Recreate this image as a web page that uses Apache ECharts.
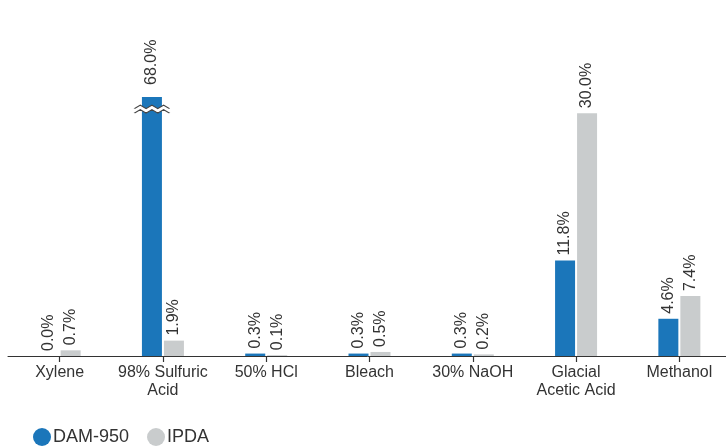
<!DOCTYPE html>
<html>
<head>
<meta charset="utf-8">
<script src="https://cdn.jsdelivr.net/npm/echarts@6/dist/echarts.min.js"></script>
<style>html,body{margin:0;padding:0;background:#fff}#c{width:726px;height:448px}</style>
</head>
<body>
<div id="c"></div>
<script>
var categories = ['Xylene', '98% Sulfuric\nAcid', '50% HCl', 'Bleach', '30% NaOH', 'Glacial\nAcetic Acid', 'Methanol'];
var dam950 = [0.0, 68.0, 0.3, 0.3, 0.3, 11.8, 4.6];
var ipda = [0.7, 1.9, 0.1, 0.5, 0.2, 30.0, 7.4];
var seriesNames = ['DAM-950', 'IPDA'];
var axisMax = 32;      // visible top of the (broken) value axis
var breakMark = 30.5;  // where the break symbol is drawn

var FONT = '"Liberation Sans", Arial, Helvetica, sans-serif';
var labelCfg = {
  show: true, position: 'top', rotate: 90, align: 'left', verticalAlign: 'middle',
  distance: 5, fontSize: 16, color: '#333', fontFamily: FONT,
  formatter: function (p) { return p.value.toFixed(1) + '%'; }
};

var damData = dam950.map(function (v) {
  if (v > axisMax) return { value: v, label: { distance: 12 } };
  return v;
});

var GL = 8, GW = 723, band = GW / categories.length;

var chart = echarts.init(document.getElementById('c'), null, { renderer: 'canvas' });
chart.setOption({
  animation: false,
  textStyle: { fontFamily: FONT },
  grid: [
    { left: GL, width: GW, top: 97, bottom: 92, containLabel: false, outerBoundsMode: 'none' },
    { left: GL + band / 2, width: GW - band, top: 97, bottom: 92, containLabel: false, outerBoundsMode: 'none' }
  ],
  legend: {
    left: 28, top: 423, icon: 'circle', itemWidth: 18, itemHeight: 18, itemGap: 18,
    textStyle: { fontSize: 18, color: '#333', fontFamily: FONT, padding: [0, 0, 0, -3] },
    data: seriesNames
  },
  xAxis: [
    {
      type: 'category', data: categories, gridIndex: 0,
      axisLine: { show: true, lineStyle: { color: '#333', width: 1 } },
      axisTick: { show: false },
      axisLabel: { fontSize: 16, color: '#333', lineHeight: 18, margin: 8, interval: 0, fontFamily: FONT }
    },
    {
      type: 'value', gridIndex: 1, position: 'bottom',
      min: 0, max: categories.length - 1, interval: 1,
      axisLine: { show: false, onZero: false },
      axisTick: { show: true, length: 6, lineStyle: { color: '#333', width: 1.2 } },
      axisLabel: { show: false },
      splitLine: { show: false }
    }
  ],
  yAxis: [
    { type: 'value', min: 0, max: axisMax, show: false, gridIndex: 0 },
    { type: 'value', min: 0, max: axisMax, show: false, gridIndex: 1 }
  ],
  series: [
    {
      name: seriesNames[0], type: 'bar', data: damData, barWidth: 20, barGap: '10%', clip: true,
      itemStyle: { color: '#1b76ba' }, label: labelCfg,
      markPoint: {
        silent: true,
        label: { show: false },
        data: [
          {
            coord: [categories[1], breakMark],
            symbol: 'path://M0 3 L6 0 L12 3 L18 0 L24 3 L30 0 L36 3 L36 7 L30 4 L24 7 L18 4 L12 7 L6 4 L0 7 Z',
            symbolSize: [35, 8],
            itemStyle: { color: '#ffffff', borderWidth: 0 }
          },
          {
            coord: [categories[1], breakMark],
            symbol: 'path://M0 3 L6 0 L12 3 L18 0 L24 3 L30 0 L36 3 M0 7 L6 4 L12 7 L18 4 L24 7 L30 4 L36 7',
            symbolSize: [35, 8],
            itemStyle: { color: 'rgba(0,0,0,0)', borderColor: '#444', borderWidth: 0.9 }
          }
        ]
      }
    },
    {
      name: seriesNames[1], type: 'bar', data: ipda, barWidth: 20, barGap: '10%', clip: true,
      itemStyle: { color: '#c9cccd' }, label: labelCfg
    }
  ]
});
</script>
</body>
</html>
